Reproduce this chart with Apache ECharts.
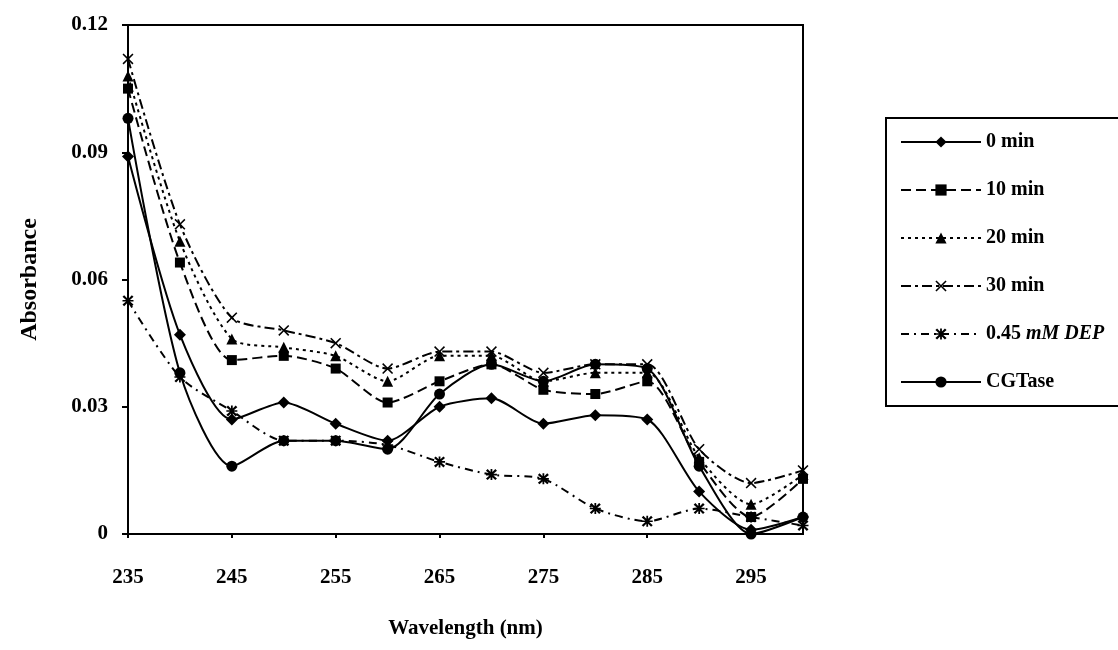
<!DOCTYPE html>
<html>
<head>
<meta charset="utf-8">
<title>Absorbance spectra</title>
<script src="https://cdn.jsdelivr.net/npm/echarts@6/dist/echarts.min.js"></script>
<style>
  html, body { margin: 0; padding: 0; background: #fff; }
  #chart { width: 1118px; height: 650px; }
</style>
</head>
<body>
<div id="chart"></div>
<script>
// Wavelengths (nm), sampled every 5 nm
const wavelengths = [235, 240, 245, 250, 255, 260, 265, 270, 275, 280, 285, 290, 295, 300];

// Absorbance readings per treatment
const min0   = [0.089, 0.047, 0.027, 0.031, 0.026, 0.022, 0.030, 0.032, 0.026, 0.028, 0.027, 0.010, 0.001, 0.004];
const min10  = [0.105, 0.064, 0.041, 0.042, 0.039, 0.031, 0.036, 0.040, 0.034, 0.033, 0.036, 0.017, 0.004, 0.013];
const min20  = [0.108, 0.069, 0.046, 0.044, 0.042, 0.036, 0.042, 0.042, 0.036, 0.038, 0.038, 0.018, 0.007, 0.014];
const min30  = [0.112, 0.073, 0.051, 0.048, 0.045, 0.039, 0.043, 0.043, 0.038, 0.040, 0.040, 0.020, 0.012, 0.015];
const dep045 = [0.055, 0.037, 0.029, 0.022, 0.022, 0.021, 0.017, 0.014, 0.013, 0.006, 0.003, 0.006, 0.004, 0.002];
const cgtase = [0.098, 0.038, 0.016, 0.022, 0.022, 0.020, 0.033, 0.040, 0.036, 0.040, 0.039, 0.016, 0.000, 0.004];

const seriesNames = ['0 min', '10 min', '20 min', '30 min', '0.45 mM DEP', 'CGTase'];
const yTicks = [0, 0.03, 0.06, 0.09, 0.12];

// Marker shapes
const crossPath = 'path://M0,1 L1,0 L5,4 L9,0 L10,1 L6,5 L10,9 L9,10 L5,6 L1,10 L0,9 L4,5 Z';
const starPath  = 'path://M0,1.5 L1.5,0 L4.2,2.7 L4.2,0 L5.8,0 L5.8,2.7 L8.5,0 L10,1.5 L6.8,4.3 L10,4.3 L10,5.7 L6.8,5.7 L10,8.5 L8.5,10 L5.8,7.3 L5.8,10 L4.2,10 L4.2,7.3 L1.5,10 L0,8.5 L3.2,5.7 L0,5.7 L0,4.3 L3.2,4.3 Z';

const FONT = '"Liberation Serif", "DejaVu Serif", serif';
const INK = '#000';

function lineSeries(name, data, symbol, size, dash) {
  return {
    name: name,
    type: 'line',
    data: data,
    symbol: symbol,
    symbolSize: size,
    showAllSymbol: true,
    smooth: 0.25,
    itemStyle: { color: INK },
    lineStyle: { color: INK, width: 2, type: dash },
    emphasis: { disabled: true }
  };
}

const chart = echarts.init(document.getElementById('chart'), null, { renderer: 'canvas' });

chart.setOption({
  animation: false,
  backgroundColor: '#fff',
  grid: {
    left: 128, right: 315, top: 25, bottom: 116,
    show: true, borderColor: INK, borderWidth: 2
  },
  legend: {
    orient: 'vertical',
    left: 886, top: 118,
    padding: [14, 80, 14, 14],
    itemGap: 28,
    itemWidth: 80,
    itemHeight: 14,
    borderColor: INK,
    borderWidth: 2,
    textStyle: {
      fontFamily: FONT, fontWeight: 'bold', fontSize: 20, lineHeight: 20, color: INK,
      rich: { i: { fontFamily: FONT, fontWeight: 'bold', fontStyle: 'italic', fontSize: 20, color: INK } }
    },
    formatter: name => name.replace('mM DEP', '{i|mM DEP}'),
    data: seriesNames
  },
  xAxis: {
    type: 'category',
    data: wavelengths.map(String),
    boundaryGap: false,
    name: 'Wavelength (nm)',
    nameLocation: 'middle',
    nameGap: 84,
    nameTextStyle: { fontFamily: FONT, fontWeight: 'bold', fontSize: 21, color: INK },
    axisLine: { lineStyle: { color: INK, width: 2 } },
    axisTick: { show: true, interval: 1, length: 4, lineStyle: { color: INK, width: 2 } },
    axisLabel: {
      interval: 1, margin: 33,
      fontFamily: FONT, fontWeight: 'bold', fontSize: 21, color: INK
    },
    splitLine: { show: false }
  },
  yAxis: {
    type: 'value',
    min: yTicks[0], max: yTicks[yTicks.length - 1], interval: 0.03,
    name: 'Absorbance',
    nameLocation: 'middle',
    nameGap: 86,
    nameRotate: 90,
    nameTextStyle: { fontFamily: FONT, fontWeight: 'bold', fontSize: 24, color: INK },
    axisLine: { show: true, lineStyle: { color: INK, width: 2 } },
    axisTick: { show: true, length: 6, lineStyle: { color: INK, width: 2 } },
    axisLabel: {
      margin: 20,
      fontFamily: FONT, fontWeight: 'bold', fontSize: 21, color: INK,
      formatter: v => (v === 0 ? '0' : v.toFixed(2))
    },
    splitLine: { show: false }
  },
  series: [
    lineSeries(seriesNames[0], min0, 'diamond', 12, 'solid'),
    lineSeries(seriesNames[1], min10, 'rect', 10, [10, 5]),
    lineSeries(seriesNames[2], min20, 'triangle', 11, [3, 4]),
    lineSeries(seriesNames[3], min30, crossPath, 11, [10, 4, 3, 4]),
    lineSeries(seriesNames[4], dep045, starPath, 11, [8, 5, 2, 5]),
    lineSeries(seriesNames[5], cgtase, 'circle', 11, 'solid')
  ]
});
</script>
</body>
</html>
